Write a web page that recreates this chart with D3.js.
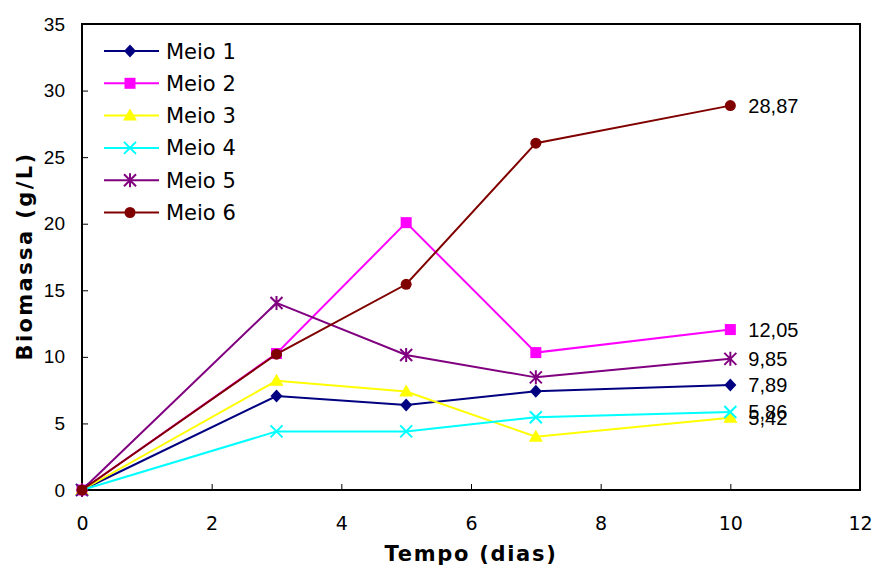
<!DOCTYPE html>
<html>
<head>
<meta charset="utf-8">
<script src="https://cdn.jsdelivr.net/npm/d3@7/dist/d3.min.js"></script>
<style>
  body { margin: 0; background: #fff; }
  svg { display: block; }
</style>
</head>
<body>
<svg id="chart" width="876" height="569"></svg>
<script>
// Biomass growth over time for six culture media
const days = [0, 3, 5, 7, 10];
const meio1 = [0, 7.06, 6.39, 7.42, 7.89];
const meio2 = [0, 10.25, 20.08, 10.32, 12.05];
const meio3 = [0, 8.2, 7.4, 4.0, 5.42];
const meio4 = [0, 4.4, 4.4, 5.46, 5.86];
const meio5 = [0, 14.05, 10.14, 8.46, 9.85];
const meio6 = [0, 10.2, 15.45, 26.05, 28.87];
const seriesNames = ["Meio 1", "Meio 2", "Meio 3", "Meio 4", "Meio 5", "Meio 6"];
const endLabels = ["7,89", "12,05", "5,42", "5,86", "9,85", "28,87"];
const xTicks = [0, 2, 4, 6, 8, 10, 12];
const yTicks = [0, 5, 10, 15, 20, 25, 30, 35];

const colors = ["#000080", "#ff00ff", "#ffff00", "#00ffff", "#800080", "#800000"];
const shapes = ["diamond", "square", "triangle", "cross", "star", "circle"];
const allValues = [meio1, meio2, meio3, meio4, meio5, meio6];

const svg = d3.select("#chart");
const plot = { left: 82, right: 860, top: 24, bottom: 490 };

const x = d3.scaleLinear().domain([0, 12]).range([plot.left, plot.right]);
const y = d3.scaleLinear().domain([0, 35]).range([plot.bottom, plot.top]);

// Axes with inward ticks
const xAxis = svg.append("g")
  .attr("transform", `translate(0,${plot.bottom})`)
  .call(d3.axisBottom(x).tickValues(xTicks).tickSizeInner(-6).tickSizeOuter(0).tickPadding(27));
const yAxis = svg.append("g")
  .attr("transform", `translate(${plot.left},0)`)
  .call(d3.axisLeft(y).tickValues(yTicks).tickSizeInner(-6).tickSizeOuter(0).tickPadding(17));

[xAxis, yAxis].forEach(g => {
  g.select(".domain").remove();
  g.selectAll(".tick line").attr("stroke", "#000").attr("stroke-width", 1);
  g.selectAll(".tick text").attr("fill", "#000");
});
xAxis.selectAll(".tick text")
  .style("font-family", "'DejaVu Sans', Verdana, sans-serif")
  .style("font-size", "19px");
yAxis.selectAll(".tick text")
  .style("font-family", "'Liberation Sans', Arial, sans-serif")
  .style("font-size", "19px");

// Plot frame
svg.append("rect")
  .attr("x", plot.left).attr("y", plot.top)
  .attr("width", plot.right - plot.left).attr("height", plot.bottom - plot.top)
  .attr("fill", "none").attr("stroke", "#000").attr("stroke-width", 2);

// Axis titles
svg.append("text")
  .attr("x", (plot.left + plot.right) / 2).attr("y", 561)
  .attr("text-anchor", "middle")
  .style("font-family", "'DejaVu Sans', Verdana, sans-serif")
  .style("font-size", "21px").style("font-weight", "bold")
  .style("letter-spacing", "1.7px")
  .text("Tempo (dias)");
svg.append("text")
  .attr("transform", `translate(32,256) rotate(-90)`)
  .attr("text-anchor", "middle")
  .style("font-family", "'DejaVu Sans', Verdana, sans-serif")
  .style("font-size", "21px").style("font-weight", "bold")
  .style("letter-spacing", "2.4px")
  .text("Biomassa (g/L)");

// Marker drawing
function drawMarker(g, shape, color, cx, cy) {
  if (shape === "diamond") {
    g.append("path").attr("d", `M${cx},${cy - 6.5}L${cx + 6},${cy}L${cx},${cy + 6.5}L${cx - 6},${cy}Z`).attr("fill", color);
  } else if (shape === "square") {
    g.append("rect").attr("x", cx - 5.5).attr("y", cy - 5.5).attr("width", 11).attr("height", 11).attr("fill", color);
  } else if (shape === "triangle") {
    g.append("path").attr("d", `M${cx},${cy - 7}L${cx + 7},${cy + 5}L${cx - 7},${cy + 5}Z`).attr("fill", color);
  } else if (shape === "cross") {
    g.append("path").attr("d", `M${cx - 6},${cy - 6}L${cx + 6},${cy + 6}M${cx - 6},${cy + 6}L${cx + 6},${cy - 6}`)
      .attr("stroke", color).attr("stroke-width", 2).attr("fill", "none");
  } else if (shape === "star") {
    g.append("path").attr("d", `M${cx - 6},${cy - 6}L${cx + 6},${cy + 6}M${cx - 6},${cy + 6}L${cx + 6},${cy - 6}M${cx},${cy - 7}L${cx},${cy + 7}`)
      .attr("stroke", color).attr("stroke-width", 2).attr("fill", "none");
  } else if (shape === "circle") {
    g.append("circle").attr("cx", cx).attr("cy", cy).attr("r", 5.5).attr("fill", color);
  }
}

const line = d3.line().x(d => x(d[0])).y(d => y(d[1]));

allValues.forEach((vals, i) => {
  const g = svg.append("g");
  const pts = days.map((d, j) => [d, vals[j]]);
  g.append("path").datum(pts).attr("d", line)
    .attr("fill", "none").attr("stroke", colors[i]).attr("stroke-width", 2);
  pts.forEach(p => drawMarker(g, shapes[i], colors[i], x(p[0]), y(p[1])));
});

// Value labels at the final day
allValues.forEach((vals, i) => {
  const v = vals[vals.length - 1];
  svg.append("text")
    .attr("x", x(days[days.length - 1]) + 18).attr("y", y(v))
    .attr("dy", "0.36em")
    .style("font-family", "'Liberation Sans', Arial, sans-serif")
    .style("font-size", "20px").attr("fill", "#000")
    .text(endLabels[i]);
});

// Legend
const legend = svg.append("g");
seriesNames.forEach((name, i) => {
  const ly = 51 + i * 32.3;
  legend.append("line").attr("x1", 104).attr("x2", 159).attr("y1", ly).attr("y2", ly)
    .attr("stroke", colors[i]).attr("stroke-width", 2);
  drawMarker(legend, shapes[i], colors[i], 130, ly);
  legend.append("text").attr("x", 166).attr("y", ly).attr("dy", "0.36em")
    .style("font-family", "'DejaVu Sans', Verdana, sans-serif")
    .style("font-size", "21px").attr("fill", "#000")
    .text(name);
});
</script>
</body>
</html>
